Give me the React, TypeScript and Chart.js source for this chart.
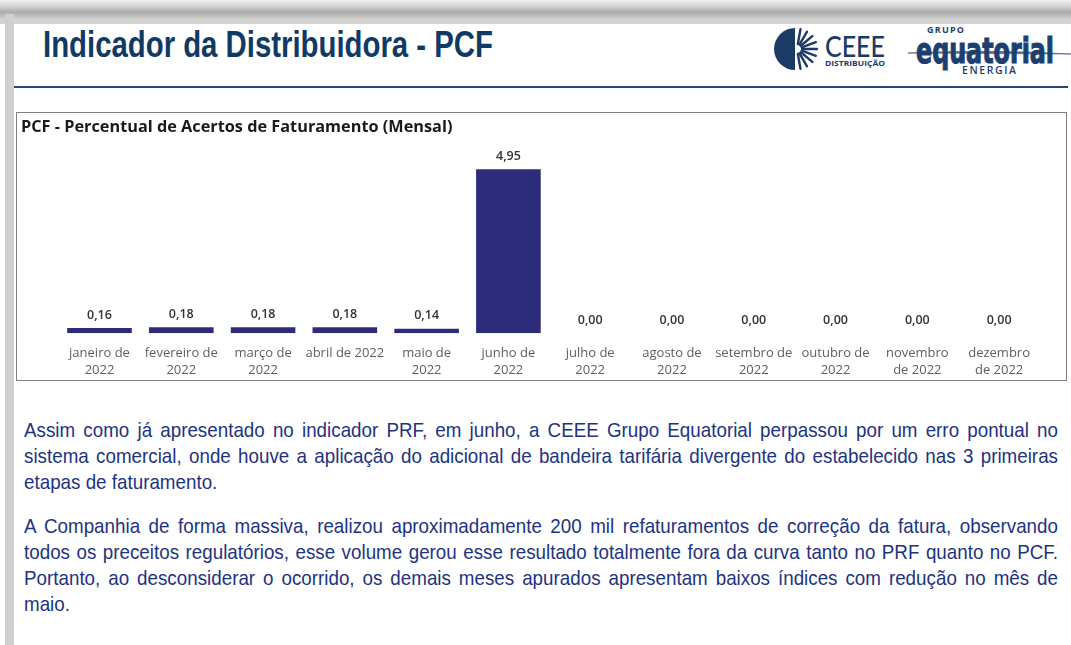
import React, { useEffect, useRef } from "react";
import { Chart, registerables } from "chart.js";

Chart.register(...registerables);

const chartTitle = "PCF - Percentual de Acertos de Faturamento (Mensal)";
const months: (string | string[])[] = [
  ["janeiro de", "2022"],
  ["fevereiro de", "2022"],
  ["março de", "2022"],
  "abril de 2022",
  ["maio de", "2022"],
  ["junho de", "2022"],
  ["julho de", "2022"],
  ["agosto de", "2022"],
  ["setembro de", "2022"],
  ["outubro de", "2022"],
  ["novembro", "de 2022"],
  ["dezembro", "de 2022"],
];
const pcfValues = [0.16, 0.18, 0.18, 0.18, 0.14, 4.95, 0, 0, 0, 0, 0, 0];

const paragraph1 =
  "Assim como já apresentado no indicador PRF, em junho, a CEEE Grupo Equatorial perpassou por um erro pontual no sistema comercial, onde houve a aplicação do adicional de bandeira tarifária divergente do estabelecido nas 3 primeiras etapas de faturamento.";
const paragraph2 =
  "A Companhia de forma massiva, realizou aproximadamente 200 mil refaturamentos de correção da fatura, observando todos os preceitos regulatórios, esse volume gerou esse resultado totalmente fora da curva tanto no PRF quanto no PCF. Portanto, ao desconsiderar o ocorrido, os demais meses apurados apresentam baixos índices com redução no mês de maio.";

const valueLabels = {
  id: "valueLabels",
  afterDatasetsDraw(chart: any) {
    const ctx = chart.ctx;
    const meta = chart.getDatasetMeta(0);
    ctx.save();
    ctx.font = "600 12.5px 'Open Sans', sans-serif";
    ctx.fillStyle = "#333333";
    ctx.textAlign = "center";
    ctx.textBaseline = "middle";
    meta.data.forEach((bar: any, i: number) => {
      const v = chart.data.datasets[0].data[i] as number;
      ctx.fillText(v.toFixed(2).replace(".", ","), bar.x, bar.y - 13);
    });
    ctx.restore();
  },
};

function BarChart() {
  const ref = useRef<HTMLCanvasElement>(null);
  useEffect(() => {
    if (!ref.current) return;
    const chart = new Chart(ref.current, {
      type: "bar",
      data: {
        labels: months,
        datasets: [
          {
            data: pcfValues,
            backgroundColor: "#2d2c7a",
            borderWidth: 0,
            barPercentage: 0.79,
            categoryPercentage: 1,
          },
        ],
      },
      options: {
        responsive: false,
        animation: false,
        devicePixelRatio: 1,
        layout: { padding: { left: 4, right: 26, top: 0, bottom: 0 } },
        plugins: {
          legend: { display: false },
          tooltip: { enabled: false },
          title: {
            display: true,
            text: chartTitle,
            align: "start",
            color: "#1a1a1a",
            font: { family: "'Open Sans', sans-serif", size: 16.3, weight: "bold", lineHeight: 1.2 },
            padding: { top: 4.2, bottom: 0 },
          },
        },
        scales: {
          x: {
            grid: { display: false, drawTicks: false },
            border: { display: false },
            ticks: {
              color: "#605e5c",
              font: { family: "'Open Sans', sans-serif", size: 13, lineHeight: 1.33 },
              padding: 11.4,
              autoSkip: false,
              maxRotation: 0,
              minRotation: 0,
            },
            afterFit: (s: any) => {
              s.height = 46.7;
            },
          },
          y: {
            min: 0,
            max: 5.93,
            grid: { display: false, drawTicks: false },
            border: { display: false },
            ticks: { display: false },
            afterFit: (s: any) => {
              s.width = 37.6;
            },
          },
        },
      },
      plugins: [valueLabels],
    });
    return () => chart.destroy();
  }, []);
  return <canvas ref={ref} width={1049} height={267} style={{ display: "block", width: 1049, height: 267 }} />;
}

function Logos() {
  const cx = 37;
  const cy = 29;
  const rays = [];
  for (let k = 0; k < 9; k++) {
    const a = (-80 + k * 20) * (Math.PI / 180);
    const r1 = 5;
    const r2 = 20;
    rays.push(
      <line
        key={k}
        x1={cx + r1 * Math.cos(a)}
        y1={cy + r1 * Math.sin(a)}
        x2={cx + r2 * Math.cos(a)}
        y2={cy + r2 * Math.sin(a)}
        stroke="#1d3a66"
        strokeWidth={2.4}
        strokeLinecap="round"
      />
    );
  }
  return (
    <svg width={311} height={62} style={{ position: "absolute", left: 760, top: 20 }}>
      <path d={`M ${cx - 2} 8 A 21 21 0 0 0 ${cx - 2} 50 Z`} fill="#1d3a66" />
      {rays}
      <text x={65} y={37} fontFamily="Lato, sans-serif" fontSize={29} fontWeight={500} fill="#1d3a66" textLength={60} lengthAdjust="spacingAndGlyphs">
        CEEE
      </text>
      <text x={65} y={45.5} fontFamily="'Open Sans', sans-serif" fontSize={6.5} fontWeight={700} fill="#1d3a66" textLength={60} lengthAdjust="spacingAndGlyphs">
        DISTRIBUIÇÃO
      </text>
      <text x={167} y={13} fontFamily="'Open Sans', sans-serif" fontSize={9} fontWeight={700} fill="#1d3f6f" textLength={37} lengthAdjust="spacing">
        GRUPO
      </text>
      <path d="M 148 33 Q 230 29 311 34 Q 230 33.5 148 33 Z" fill="#5c7090" stroke="#5c7090" strokeWidth={0.8} />
      <text x={156} y={43} fontFamily="'DejaVu Sans', sans-serif" fontSize={36} fontWeight={700} fill="#1d3f6f" stroke="#1d3f6f" strokeWidth={1.2} textLength={138} lengthAdjust="spacingAndGlyphs">
        equatorial
      </text>
      <text x={202} y={54} fontFamily="'Open Sans', sans-serif" fontSize={10.5} fontWeight={600} fill="#1d3f6f" textLength={54} lengthAdjust="spacing">
        ENERGIA
      </text>
    </svg>
  );
}

export default function App() {
  const scale = 0.895;
  const paraStyle: React.CSSProperties = {
    margin: 0,
    fontFamily: "'Liberation Sans', Arial, sans-serif",
    fontSize: 21,
    lineHeight: "26px",
    color: "#1d3382",
    textAlign: "justify",
  };
  return (
    <div
      style={{
        position: "absolute",
        left: 0,
        top: 0,
        width: 1071,
        height: 645,
        overflow: "hidden",
        background: "#ffffff",
      }}
    >
      <div
        style={{
          position: "absolute",
          left: 0,
          top: 0,
          width: 1071,
          height: 24,
          background:
            "linear-gradient(to bottom, #f2f2f2 0px, #d0d0d0 7px, #ababab 12px, #bdbdbd 16px, #d3d3d3 19px, #d3d3d3 24px)",
        }}
      />
      <div style={{ position: "absolute", left: 5, top: 14, width: 9, height: 631, background: "#d0d0d0" }} />
      <div
        style={{
          position: "absolute",
          left: 43,
          top: 27,
          whiteSpace: "nowrap",
          fontFamily: "'Liberation Sans', Arial, sans-serif",
          fontWeight: 700,
          fontSize: 36,
          lineHeight: "36px",
          color: "#0f3a66",
          transform: "scaleX(0.815)",
          transformOrigin: "left top",
        }}
      >
        Indicador da Distribuidora - PCF
      </div>
      <Logos />
      <div style={{ position: "absolute", left: 14, top: 86, width: 1054, height: 2, background: "#1f4a74" }} />
      <div
        style={{
          position: "absolute",
          left: 16,
          top: 112,
          width: 1049,
          height: 267,
          border: "1px solid #808080",
        }}
      >
        <BarChart />
      </div>
      <div
        style={{
          position: "absolute",
          left: 24,
          top: 417,
          width: 1034 / scale,
          transform: `scaleX(${scale})`,
          transformOrigin: "left top",
        }}
      >
        <p style={paraStyle}>{paragraph1}</p>
        <p style={{ ...paraStyle, marginTop: 18 }}>{paragraph2}</p>
      </div>
    </div>
  );
}
